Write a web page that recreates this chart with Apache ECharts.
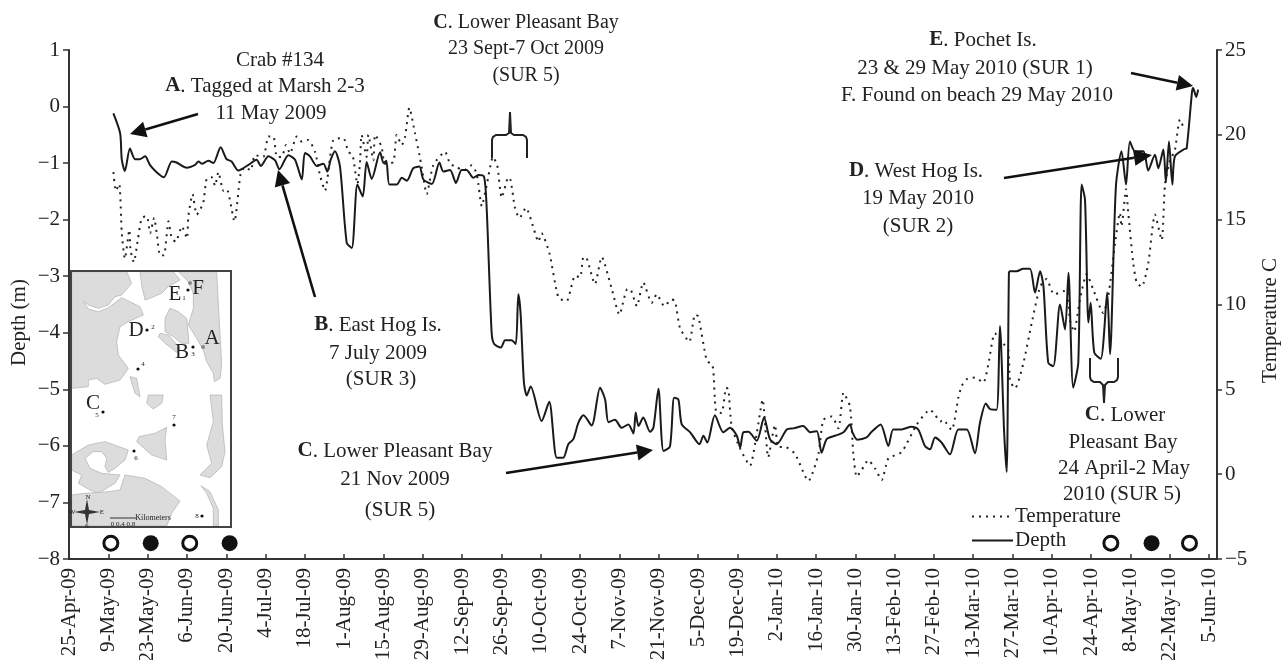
<!DOCTYPE html>
<html><head><meta charset="utf-8">
<style>html,body{margin:0;padding:0;background:#fff}#c{width:1285px;height:660px;filter:blur(0.45px)}</style>
<script src="https://cdn.jsdelivr.net/npm/echarts@6/dist/echarts.min.js"></script>
</head><body><div id="c"></div>
<script>
// x values are days after 25-Apr-09
const tickLabels = ['25-Apr-09','9-May-09','23-May-09','6-Jun-09','20-Jun-09','4-Jul-09','18-Jul-09','1-Aug-09','15-Aug-09','29-Aug-09','12-Sep-09','26-Sep-09','10-Oct-09','24-Oct-09','7-Nov-09','21-Nov-09','5-Dec-09','19-Dec-09','2-Jan-10','16-Jan-10','30-Jan-10','13-Feb-10','27-Feb-10','13-Mar-10','27-Mar-10','10-Apr-10','24-Apr-10','8-May-10','22-May-10','5-Jun-10'];
const depthPoints = [[15.8,-0.12],[18.2,-0.47],[18.8,-0.94],[19.9,-1.14],[21.7,-0.74],[23.5,-0.93],[25.3,-0.93],[27.1,-0.88],[28.8,-1.03],[31.2,-1.16],[33.8,-1.25],[36.6,-0.97],[38.3,-0.99],[41.9,-1.08],[44.9,-1.03],[46.1,-0.97],[47.3,-1.01],[49.6,-0.96],[51.4,-1.0],[54,-0.72],[56.1,-0.93],[57.9,-0.97],[60.3,-1.13],[63.9,-1.03],[66.8,-0.94],[68.3,-1.05],[71,-0.88],[73.4,-0.95],[74.9,-1.11],[78.1,-0.86],[80.5,-0.94],[82.9,-1.29],[84,-0.82],[85.8,-0.88],[88.2,-1.05],[90.6,-1.01],[92,-1.15],[93.2,-0.94],[94.7,-0.79],[96.5,-1.06],[98.9,-2.41],[100.7,-2.5],[102.7,-1.38],[104.6,-1.59],[106,-0.98],[107.8,-1.28],[110.8,-0.81],[112,-1.0],[113,-0.96],[114.1,-1.38],[116.7,-1.38],[118.5,-1.26],[120.3,-1.31],[122.6,-1.09],[124.8,-1.06],[126.2,-1.29],[129.2,-1.37],[131.9,-0.99],[133.3,-1.15],[135.7,-1.12],[137.8,-1.35],[139.8,-1.12],[141.6,-1.12],[144,-1.26],[145.8,-1.21],[147.8,-1.24],[148.7,-1.76],[150.5,-4.0],[151.4,-4.2],[153.8,-4.26],[155.3,-4.13],[157.6,-4.13],[159.1,-4.2],[160,-3.32],[160.8,-3.65],[162,-4.88],[163,-5.11],[164.4,-4.95],[168.3,-5.56],[171,-5.22],[173.7,-6.21],[176,-6.21],[177.8,-5.97],[179.6,-5.88],[181.4,-5.59],[183.2,-5.46],[186.1,-5.64],[189.1,-4.97],[190.9,-5.18],[192.1,-5.58],[194.4,-5.54],[196.8,-5.68],[199.2,-5.62],[201,-5.78],[201.8,-5.41],[202.8,-5.65],[204.5,-5.5],[206.9,-5.75],[208.1,-5.68],[209.9,-4.99],[211.7,-6.09],[214,-6.01],[215.5,-5.15],[217,-5.18],[218.2,-5.62],[221.2,-5.76],[224.5,-5.97],[225.9,-5.82],[227.3,-5.94],[230,-5.46],[233,-5.76],[235.4,-5.68],[237.8,-5.82],[239,-6.03],[240.1,-5.76],[241.9,-5.75],[244.9,-5.91],[247.5,-5.5],[249.6,-5.88],[252,-5.97],[255.6,-5.71],[258,-5.69],[261.5,-5.65],[263.9,-5.76],[266.3,-5.74],[268,-6.12],[269.8,-5.88],[272.8,-5.82],[275.8,-5.76],[278.1,-5.62],[279,-5.76],[280.7,-5.89],[284,-5.85],[285.8,-5.75],[289,-5.62],[291.8,-6.0],[293.5,-5.71],[296.5,-5.71],[300,-5.66],[302.4,-5.71],[304.8,-6.0],[306.6,-6.06],[308.4,-5.85],[310.7,-5.94],[313.7,-6.15],[316.7,-5.71],[319.7,-5.71],[322.6,-6.13],[324.4,-5.59],[326.5,-5.25],[328,-5.35],[330.3,-5.36],[331.5,-3.88],[333,-5.76],[333.9,-6.46],[334.7,-2.94],[335.1,-2.91],[337.5,-2.91],[339.8,-2.87],[342.2,-2.87],[344,-3.29],[345.8,-2.91],[347,-3.18],[348.7,-4.53],[350.5,-4.59],[352.9,-3.5],[354.7,-3.94],[355.9,-2.94],[357.6,-4.97],[359.4,-4.53],[360.6,-1.38],[361.8,-1.65],[363,-3.82],[363.8,-3.47],[365.1,-4.35],[367.4,-4.46],[369.7,-3.29],[370.7,-4.38],[372.8,-1.41],[374.8,-0.79],[376.4,-1.38],[377.8,-0.62],[379.6,-0.79],[382.6,-0.79],[384.3,-1.13],[386.7,-0.85],[387.9,-1.09],[389.7,-0.76],[390.6,-1.34],[391.7,-0.62],[392.9,-1.38],[393.8,-0.88],[397.2,-0.75],[398,-0.74],[399.9,0.26],[400.3,0.33],[401.4,0.17],[402.1,0.3]];
const temperaturePoints = [[15.8,17.8],[16.7,16.7],[17.9,17.1],[18.8,14.2],[19.9,12.7],[21.5,14.4],[21.9,13.2],[23.1,12.5],[24.5,13.8],[25.9,15.1],[27.7,15.2],[28.9,14.2],[30.3,15.1],[31.4,14],[32.4,12.9],[33.8,12.9],[35.4,14.9],[36.6,13.9],[38,13.7],[40.2,14.6],[42,13.9],[42.5,15.2],[44,16.5],[45.5,15.3],[47.8,16],[49,17.4],[50.8,17.5],[52,17],[53.2,17.8],[55,16.7],[56.2,16.8],[58.9,14.9],[61.1,17.7],[62.7,18.1],[64.7,17.9],[66.2,18.8],[69.2,18.7],[71,19.9],[72.8,19.9],[74,18.7],[75.7,18.7],[77.3,19.4],[78.7,18.9],[81.1,19.9],[82.9,19.6],[85.2,19.7],[87.6,19],[89.4,17.6],[91.2,16.7],[92,17.4],[94.1,19.7],[97.7,19.8],[99.5,19],[101,18.8],[102.7,17.1],[103.6,18.3],[104.2,20],[106,18.7],[106.6,20],[108.4,18.5],[109,20],[111.3,19.3],[112.5,18.3],[115.5,18.4],[116.7,20],[118.5,19.4],[119.7,19.9],[121.2,21.6],[123.2,20.1],[124.8,18.8],[125.6,18.1],[127.4,16.5],[129.7,18.2],[133.9,19],[135.7,18.3],[138.1,18.1],[140.4,17.9],[143.4,18.2],[145.2,17.7],[147,15.8],[148.7,17],[151,18.7],[152.5,18.2],[154.1,16.3],[156.5,17.5],[157.3,17.3],[158.8,15.7],[160.4,15.1],[162.7,15.7],[166,14.2],[167.1,13.7],[168.3,14.2],[171.1,13],[174.3,10.4],[177.2,10.2],[180.2,11.7],[182,11.6],[183.2,12.8],[184.4,12.7],[187.3,11.2],[189.7,12.8],[193.3,10.9],[196,9.4],[198.8,10.9],[199.8,10.9],[202.2,9.9],[204.5,11.3],[207.5,10.1],[209.3,10.6],[212,9.9],[214.6,10.3],[215.8,10.2],[217.6,8.6],[220.9,7.8],[222.9,9.4],[224.1,9.3],[227.1,6.7],[229.2,6.4],[230.4,3.7],[232.4,3.6],[234,5.1],[234.8,5],[236,2.8],[239,1.5],[242.5,0.5],[244.9,2.4],[247,4.4],[249,1],[251.4,2.9],[252.6,1.6],[255,1.6],[258.5,1.2],[263.3,-0.4],[266.9,1.2],[268.6,3.2],[271.6,3.4],[274,2.7],[275.8,4.8],[278.1,4],[279.3,1.2],[280.5,-0.15],[282.3,0.25],[284.6,0.83],[287,0.34],[289.4,-0.35],[291.8,0.93],[296.5,1.3],[301.8,2.9],[306.6,3.8],[308.4,3.5],[310.2,3.1],[311.3,3.2],[314.3,2.6],[316.7,4.5],[317.9,5.2],[319.7,5.6],[322.6,5.7],[325.6,5.4],[327.4,6.5],[329.7,8.3],[332.7,7.7],[334.5,7.3],[335.1,5.5],[336.9,5.06],[339.8,6.5],[342.8,8.9],[345.8,11.05],[348.1,11.5],[350.8,10.6],[355.3,10.85],[356.4,9.1],[357.9,8.4],[360,10.3],[362.4,11.8],[364.8,10.85],[368.3,9.5],[370.1,10.5],[372.5,13.6],[374.2,15.4],[374.8,14.6],[376.4,16.8],[377.2,15.4],[379,12.4],[380.2,11.3],[382,11.05],[384.3,12.4],[386.7,15.3],[389.1,13.8],[390.3,17.1],[392.1,18.5],[393.8,19.1],[395.6,20.9],[397.2,20.3]];
const openMoonDays = [14.9,43,371,399];
const filledMoonDays = [29.1,57.2,385.5];
const moonLevel = -7.72;

const serif = '"Liberation Serif", "Times New Roman", serif';
const ink = '#222';
const fs = 21;
const minus = v => String(v).replace('-', '\u2212');

function txt(x, y, text, size) {
  return { type:'text', z:50, style:{ x, y, text, fill:ink, fontFamily:serif, fontSize:size||fs, align:'center', verticalAlign:'middle',
    rich:{ b:{ fontWeight:'bold', fontFamily:serif, fontSize:size||fs, fill:ink } } } };
}
function arrow(x1,y1,x2,y2,len,wid){
  const a=Math.atan2(y2-y1,x2-x1), c=Math.cos(a), s=Math.sin(a);
  const bx=x2-len*c, by=y2-len*s;
  return [
    { type:'line', z:50, shape:{x1,y1,x2:bx,y2:by}, style:{stroke:'#111',lineWidth:2.6} },
    { type:'polygon', z:50, shape:{points:[[x2,y2],[bx-wid/2*s,by+wid/2*c],[bx+wid/2*s,by-wid/2*c]]}, style:{fill:'#111'} }
  ];
}
function poly(pts){ return { type:'polyline', z:50, shape:{points:pts}, style:{stroke:'#222',lineWidth:2,fill:null} }; }

// Inset map (decoration), outlines traced in two crop frames
const A = p => p.map(([X,Y]) => [65+X/3, 265+Y/3]);
const B = p => p.map(([X,Y]) => [65+X/3, 395+Y/3]);
const land = [
 A([[20,20],[185,20],[200,55],[170,90],[150,95],[130,120],[100,130],[70,120],[55,108],[70,132],[100,140],[130,128],[170,98],[225,125],[235,150],[190,170],[165,185],[155,230],[160,270],[190,310],[180,325],[165,345],[120,358],[95,340],[70,345],[70,365],[20,370]]),
 A([[225,20],[325,20],[345,45],[310,65],[290,85],[255,100],[240,105],[230,60]]),
 A([[315,130],[340,140],[365,160],[372,235],[350,235],[325,215],[300,200],[300,160]]),
 A([[285,205],[310,210],[345,250],[335,262],[300,235],[280,215]]),
 A([[340,20],[455,20],[470,300],[465,340],[448,350],[445,325],[425,290],[415,255],[395,220],[370,180],[385,130],[385,85],[370,50]]),
 A([[195,335],[215,340],[225,395],[210,385]]),
 B([[250,0],[295,0],[290,25],[265,42],[245,25]]),
 B([[435,0],[470,0],[472,90],[480,170],[470,215],[435,248],[405,240],[440,205],[425,150],[445,80]]),
 B([[305,97],[300,135],[305,195],[260,180],[215,140],[222,125],[270,115]]),
 B([[20,180],[70,150],[120,140],[190,165],[180,195],[150,220],[130,232],[120,215],[125,190],[110,170],[85,170],[60,190],[75,220],[110,235],[165,240],[150,265],[100,295],[75,285],[40,265],[50,240],[20,225]]),
 B([[20,300],[60,295],[130,290],[165,285],[180,240],[240,250],[290,275],[345,318],[320,355],[305,393],[20,393]]),
 B([[408,272],[435,290],[460,345],[460,393],[445,393],[445,340],[425,295]])
];
const mapDots = [[188,290],[147,330],[193,347],[138,369],[103,412],[174,425],[134,451],[202,516]];
const mapNums = [['1',184,298],['2',153,327],['3',193,354],['4',143,364],['5',97,415],['7',174,417],['6',136,458],['8',197,516]];
const mapLetters = [['F',198,288],['E',175,294],['D',136,330],['A',212,338],['B',182,352],['C',93,403]];
const mapEls = [
  { type:'rect', z:40, shape:{x:71,y:271,width:159,height:256}, style:{fill:'#fff',stroke:null} },
  ...land.map(p => ({ type:'polygon', z:41, shape:{points:p}, style:{fill:'#dcdcdc',stroke:'#b0b0b0',lineWidth:0.7} })),
  { type:'rect', z:43, shape:{x:71,y:271,width:160,height:256}, style:{fill:null,stroke:'#444',lineWidth:2} },
  ...mapDots.map(([x,y]) => ({ type:'circle', z:44, shape:{cx:x,cy:y,r:1.6}, style:{fill:'#111'} })),
  { type:'circle', z:44, shape:{cx:203,cy:347,r:2}, style:{fill:'#888'} },
  { type:'circle', z:44, shape:{cx:190,cy:283,r:2}, style:{fill:'#888'} },
  ...mapNums.map(([t,x,y]) => txt(x,y,t,7)),
  ...mapLetters.map(([t,x,y]) => txt(x,y,t,21)),
  { type:'polygon', z:44, shape:{points:[[87,499],[89,510],[100,512],[89,514],[87,525],[85,514],[74,512],[85,510]]}, style:{fill:'#333'} },
  txt(88,497,'N',7), txt(102,512,'E',7), txt(72,512,'W',7), txt(87,526,'S',7),
  { type:'line', z:44, shape:{x1:110,y1:518,x2:136,y2:518}, style:{stroke:'#333',lineWidth:1} },
  txt(153,518,'Kilometers',8), txt(123,524,'0 0.4 0.8',7)
];

const annotations = [
  txt(280,60,'Crab #134'),
  txt(265,86,'{b|A}. Tagged at Marsh 2-3'),
  txt(271,113,'11 May 2009'),
  txt(526,23,'{b|C}. Lower Pleasant Bay',20),
  txt(526,49,'23 Sept-7 Oct 2009',20),
  txt(526,76,'(SUR 5)',20),
  txt(983,40,'{b|E}. Pochet Is.'),
  txt(975,68,'23 & 29 May 2010 (SUR 1)'),
  txt(977,95,'F. Found on beach 29 May 2010'),
  txt(916,171,'{b|D}. West Hog Is.'),
  txt(918,198,'19 May 2010'),
  txt(918,226,'(SUR 2)'),
  txt(378,325,'{b|B}. East Hog Is.'),
  txt(378,353,'7 July 2009'),
  txt(381,379,'(SUR 3)'),
  txt(395,451,'{b|C}. Lower Pleasant Bay'),
  txt(395,479,'21 Nov 2009'),
  txt(400,510,'(SUR 5)'),
  txt(1125,415,'{b|C}. Lower'),
  txt(1123,442,'Pleasant Bay'),
  txt(1124,468,'24 April-2 May'),
  txt(1122,494,'2010 (SUR 5)')
];
const pointers = [
  ...arrow(198,114,130,134,16,16),
  ...arrow(315,297,278,170,16,16),
  ...arrow(506,473,653,450,16,16),
  ...arrow(1004,178,1152,155,18,16),
  ...arrow(1131,73,1193,86,16,16),
  poly([[492,158],[492,140],[493,137],[496,135],[506,135],[509,133],[510,112],[511,133],[514,135],[523,135],[526,137],[527,140],[527,158]]),
  poly([[1090,358],[1090,377],[1091,380],[1094,382],[1100,382],[1103,385],[1104,403],[1105,385],[1108,382],[1114,382],[1117,380],[1118,377],[1118,358]])
];

const chart = echarts.init(document.getElementById('c'), null, {renderer:'canvas'});
const axisLine = { show:true, onZero:false, lineStyle:{color:'#333',width:2} };
const axisTick = { show:true, lineStyle:{color:'#333',width:1.5} };
chart.setOption({
  animation:false,
  backgroundColor:'#fff',
  textStyle:{fontFamily:serif,color:ink},
  grid:{left:69,right:68,top:50,bottom:101,containLabel:false,outerBoundsMode:'none'},
  legend:{
    data:['Temperature','Depth'], orient:'vertical', left:971, top:506, itemWidth:41, itemHeight:14, itemGap:3,
    padding:0, selectedMode:false, itemStyle:{opacity:0,color:'transparent',borderWidth:0},
    textStyle:{fontFamily:serif,fontSize:fs,color:ink,padding:[0,0,0,-3]}
  },
  xAxis:{
    type:'value', min:0, max:408.8, interval:14, splitLine:{show:false},
    axisLine, axisTick:{...axisTick, inside:true, length:5},
    axisLabel:{
      rotate:90, margin:9, fontFamily:serif, fontSize:fs, color:ink, hideOverlap:false, showMinLabel:true, showMaxLabel:false,
      formatter:v => { const i=v/14; return Number.isInteger(i) && tickLabels[i] ? tickLabels[i] : ''; }
    }
  },
  yAxis:[
    { type:'value', min:-8, max:1, interval:1, splitLine:{show:false}, axisLine, axisTick:{...axisTick,length:6},
      axisLabel:{fontFamily:serif,fontSize:fs,color:ink,margin:9,formatter:minus},
      name:'Depth (m)', nameLocation:'middle', nameRotate:90, nameGap:39, nameMoveOverlap:false,
      nameTextStyle:{fontFamily:serif,fontSize:fs,color:ink,padding:[0,36,0,0]} },
    { type:'value', position:'right', min:-5, max:25, interval:5, splitLine:{show:false}, axisLine, axisTick:{...axisTick,length:5},
      axisLabel:{fontFamily:serif,fontSize:fs,color:ink,margin:8,formatter:minus},
      name:'Temperature C', nameLocation:'middle', nameRotate:90, nameGap:43, nameMoveOverlap:false,
      nameTextStyle:{fontFamily:serif,fontSize:fs,color:ink,padding:[0,32,0,0]} }
  ],
  series:[
    { name:'Temperature', type:'line', yAxisIndex:1, data:temperaturePoints, symbol:'none', smooth:0.2,
      itemStyle:{color:'#222'}, lineStyle:{color:'#222',width:2,type:[2,5]} },
    { name:'Depth', type:'line', data:depthPoints, symbol:'none', smooth:0.25,
      itemStyle:{color:'#222'}, lineStyle:{color:'#1a1a1a',width:2} },
    { name:'Open circles', type:'scatter', data:openMoonDays.map(d=>[d,moonLevel]), symbolSize:14,
      itemStyle:{color:'#fff',borderColor:'#111',borderWidth:3,opacity:1} },
    { name:'Filled circles', type:'scatter', data:filledMoonDays.map(d=>[d,moonLevel]), symbolSize:16,
      itemStyle:{color:'#111',opacity:1} }
  ],
  graphic:{elements:[...annotations,...pointers,...mapEls]}
});
</script></body></html>
